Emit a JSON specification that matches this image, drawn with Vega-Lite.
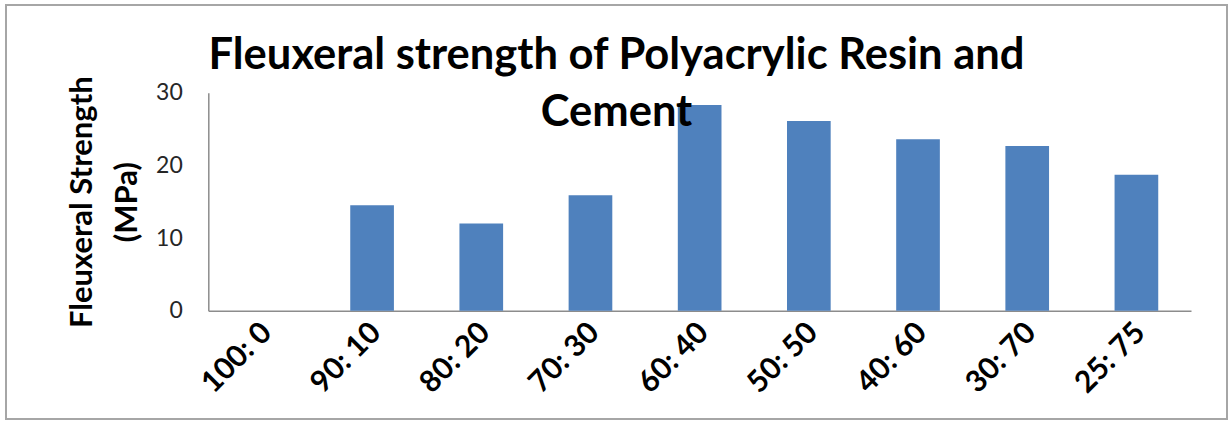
{
  "$schema": "https://vega.github.io/schema/vega-lite/v6.json",
  "width": 1221,
  "height": 414,
  "autosize": {"type": "none"},
  "padding": {"left": 6, "top": 5, "right": 1, "bottom": 2},
  "background": "white",
  "title": {
    "text": ["Fleuxeral strength of Polyacrylic Resin and", "Cement"],
    "font": "Lato",
    "fontSize": 43.5,
    "fontWeight": "bold",
    "color": "black",
    "anchor": "middle",
    "offset": 0,
    "dy": 164,
    "baseline": "alphabetic",
    "lineHeight": 57
  },
  "data": {
    "values": [
      {"ratio": "100: 0", "strength": 0},
      {"ratio": "90: 10", "strength": 14.5},
      {"ratio": "80: 20", "strength": 12.0},
      {"ratio": "70: 30", "strength": 15.9},
      {"ratio": "60: 40", "strength": 28.3},
      {"ratio": "50: 50", "strength": 26.1},
      {"ratio": "40: 60", "strength": 23.6},
      {"ratio": "30: 70", "strength": 22.65},
      {"ratio": "25: 75", "strength": 18.7}
    ]
  },
  "mark": {"type": "bar", "color": "#4f81bd"},
  "encoding": {
    "x": {
      "field": "ratio",
      "type": "nominal",
      "sort": null,
      "scale": {"range": [202.3, 1185], "paddingInner": 0.6, "paddingOuter": 0.3},
      "axis": {
        "title": null,
        "offset": -108.3,
        "ticks": false,
        "domainColor": "#8c8c8c",
        "domainWidth": 1.5,
        "labelAngle": -45,
        "labelAlign": "right",
        "labelBaseline": "middle",
        "labelPadding": 17,
        "labelOffset": 4,
        "labelFont": "Lato",
        "labelFontWeight": "bold",
        "labelFontSize": 30,
        "labelColor": "black"
      }
    },
    "y": {
      "field": "strength",
      "type": "quantitative",
      "scale": {"domain": [0, 30], "range": [305.7, 87.7], "nice": false},
      "axis": {
        "title": ["Fleuxeral Strength", "(MPa)"],
        "titleFont": "Lato",
        "titleFontSize": 31,
        "titleFontWeight": "bold",
        "titleColor": "black",
        "titleLineHeight": 45,
        "titlePadding": 12,
        "offset": -202.3,
        "grid": false,
        "ticks": false,
        "values": [0, 10, 20, 30],
        "domainColor": "#8c8c8c",
        "domainWidth": 1.5,
        "labelPadding": 26,
        "labelFont": "Lato",
        "labelFontSize": 23,
        "labelColor": "#262626"
      }
    }
  },
  "config": {"view": {"stroke": "#a6a6a6", "strokeWidth": 2}}
}
